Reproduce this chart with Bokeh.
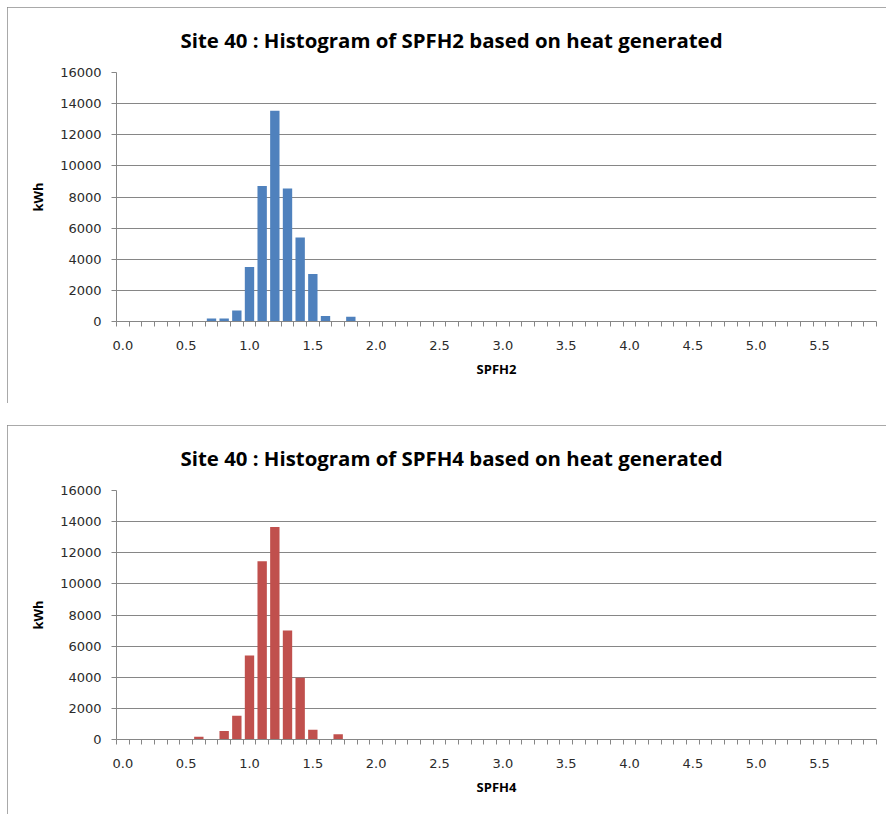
from bokeh.plotting import figure
from bokeh.models import Range1d, FixedTicker, ColumnDataSource
from bokeh.layouts import column
from bokeh.embed import file_html
from bokeh.resources import INLINE

categories = ["0.0", "0.1", "0.2", "0.3", "0.4", "0.5", "0.6", "0.7", "0.8", "0.9",
              "1.0", "1.1", "1.2", "1.3", "1.4", "1.5", "1.6", "1.7", "1.8", "1.9",
              "2.0", "2.1", "2.2", "2.3", "2.4", "2.5", "2.6", "2.7", "2.8", "2.9",
              "3.0", "3.1", "3.2", "3.3", "3.4", "3.5", "3.6", "3.7", "3.8", "3.9",
              "4.0", "4.1", "4.2", "4.3", "4.4", "4.5", "4.6", "4.7", "4.8", "4.9",
              "5.0", "5.1", "5.2", "5.3", "5.4", "5.5", "5.6", "5.7", "5.8", "5.9"]

spfh2_kwh = [0, 0, 0, 0, 0, 0, 0, 200, 200, 700,
             3500, 8700, 13550, 8550, 5400, 3050, 350, 0, 300, 0,
             0, 0, 0, 0, 0, 0, 0, 0, 0, 0,
             0, 0, 0, 0, 0, 0, 0, 0, 0, 0,
             0, 0, 0, 0, 0, 0, 0, 0, 0, 0,
             0, 0, 0, 0, 0, 0, 0, 0, 0, 0]

spfh4_kwh = [0, 0, 0, 0, 0, 0, 170, 0, 540, 1520,
             5400, 11450, 13650, 7000, 3970, 620, 0, 340, 0, 0,
             0, 0, 0, 0, 0, 0, 0, 0, 0, 0,
             0, 0, 0, 0, 0, 0, 0, 0, 0, 0,
             0, 0, 0, 0, 0, 0, 0, 0, 0, 0,
             0, 0, 0, 0, 0, 0, 0, 0, 0, 0]

x_tick_labels = ["0.0", "0.5", "1.0", "1.5", "2.0", "2.5", "3.0", "3.5", "4.0", "4.5", "5.0", "5.5"]
y_ticks = [0, 2000, 4000, 6000, 8000, 10000, 12000, 14000, 16000]

GRAY = "#868686"
TEXT = "#2b2b2b"


def make_panel(title, xlabel, values, color, height, bottom):
    n = len(categories)
    pos = [i + 0.5 for i in range(n)]
    src = ColumnDataSource(dict(x=pos, top=values, cat=categories))
    p = figure(width=879, height=height, x_range=Range1d(0, n), y_range=Range1d(0, 16000),
               output_backend="svg", toolbar_location=None,
               min_border_left=109, min_border_right=10, min_border_top=65,
               min_border_bottom=bottom)
    p.vbar(x="x", top="top", bottom=0, width=0.74, source=src,
           fill_color=color, line_color=None)

    p.title.text = title
    p.title.align = "left"
    p.title.vertical_align = "top"
    p.title.offset = 64
    p.title.standoff = 34
    p.title.text_font = "Open Sans"
    p.title.text_font_style = "bold"
    p.title.text_font_size = "20.4px"
    p.title.text_color = "#000000"

    p.outline_line_color = None
    p.background_fill_color = "white"
    p.border_fill_color = "white"
    p.xgrid.visible = False
    p.ygrid.ticker = FixedTicker(ticks=y_ticks)
    p.ygrid.grid_line_color = GRAY
    p.ygrid.grid_line_width = 1

    ya = p.yaxis[0]
    ya.ticker = FixedTicker(ticks=y_ticks)
    ya.axis_line_color = GRAY
    ya.major_tick_line_color = GRAY
    ya.major_tick_out = 5
    ya.major_tick_in = 0
    ya.minor_tick_line_color = None
    ya.major_label_text_font = "DejaVu Sans"
    ya.major_label_text_font_size = "13px"
    ya.major_label_text_color = TEXT
    ya.major_label_standoff = 10
    ya.axis_label = "kWh"
    ya.axis_label_text_font = "Open Sans"
    ya.axis_label_text_font_style = "bold"
    ya.axis_label_text_font_size = "13px"
    ya.axis_label_text_color = "#000000"
    ya.axis_label_standoff = 10

    centers = [categories.index(t) + 0.5 for t in x_tick_labels]
    xa = p.xaxis[0]
    xa.ticker = FixedTicker(ticks=centers, minor_ticks=list(range(n + 1)))
    xa.major_label_overrides = {c: t for c, t in zip(centers, x_tick_labels)}
    xa.axis_line_color = GRAY
    xa.major_tick_line_color = None
    xa.major_tick_out = 0
    xa.major_tick_in = 0
    xa.minor_tick_line_color = GRAY
    xa.minor_tick_out = 5
    xa.minor_tick_in = 0
    xa.major_label_text_font = "DejaVu Sans"
    xa.major_label_text_font_size = "13px"
    xa.major_label_text_color = TEXT
    xa.major_label_standoff = 14
    xa.axis_label = xlabel
    xa.axis_label_text_font = "Open Sans"
    xa.axis_label_text_font_style = "bold"
    xa.axis_label_text_font_size = "13px"
    xa.axis_label_text_color = "#000000"
    xa.axis_label_standoff = 7

    p.styles = {"outline": "1px solid #8c8c8c", "outline-offset": "-1px"}
    return p


p1 = make_panel("Site 40 : Histogram of SPFH2 based on heat generated", "SPFH2",
                spfh2_kwh, "#4F81BD", 396, 82)
p2 = make_panel("Site 40 : Histogram of SPFH4 based on heat generated", "SPFH4",
                spfh4_kwh, "#C0504D", 389, 75)

layout = column(p1, p2, spacing=22, margin=(7, 0, 0, 7))
open("out.html", "w").write(file_html(layout, INLINE))
